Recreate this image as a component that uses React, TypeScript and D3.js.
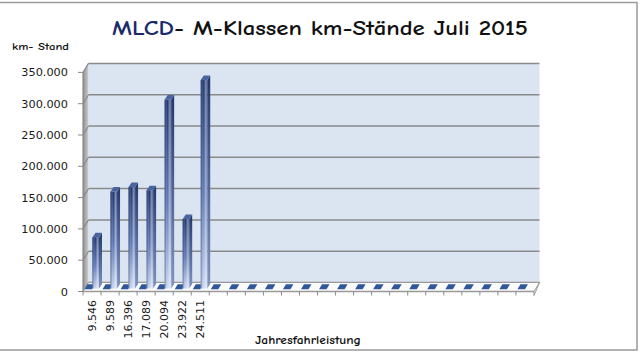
import React from "react";
import * as d3 from "d3";

const categories = ["9.546", "9.589", "16.396", "17.089", "20.094", "23.922", "24.511"];
const values = [82000, 155000, 162000, 157000, 302000, 111000, 333000];
const emptySlots = 18;
const yTicks = [0, 50000, 100000, 150000, 200000, 250000, 300000, 350000];
const titleMain = "MLCD";
const titleRest = "- M-Klassen km-Stände Juli 2015";
const yTitle = "km- Stand";
const xTitle = "Jahresfahrleistung";

const W = 640;
const H = 354;
const DX = 5.5; // depth offset of the 3D box
const DY = -9;
const BDX = 3; // bar depth
const BDY = -4.5;
const BAR_OFF_Y = -3; // bar front plane offset

const fmt = d3.formatLocale({ decimal: ",", thousands: ".", grouping: [3], currency: ["", "€"] }).format(",");

export default function App() {
  const slots = d3.range(categories.length + emptySlots);
  const x = d3.scaleBand<number>().domain(slots).range([83, 534]).padding(0);
  const y = d3.scaleLinear().domain([0, 350000]).range([291.5, 72.4]);
  const bw = x.bandwidth();
  const x0 = 83, x1 = 534;
  const yb = y(0), yt = y(350000);

  const pts = (arr: [number, number][]) => arr.map((p) => p.join(",")).join(" ");
  const comic = "'Comic Sans MS', 'Comic Neue', 'DejaVu Sans', sans-serif";

  return (
    <svg width={W} height={H} style={{ position: "absolute", left: 0, top: 0, background: "#fff" }}>
      <defs>
        <linearGradient id="sideWall" x1="0" x2="1" y1="0" y2="0">
          <stop offset="0" stopColor="#8e8e8e" />
          <stop offset="1" stopColor="#cfcfcf" />
        </linearGradient>
        <linearGradient id="barV" x1="0" x2="0" y1="0" y2="1">
          <stop offset="0" stopColor="#1f3670" />
          <stop offset="0.55" stopColor="#607bb7" />
          <stop offset="1" stopColor="#ccd8f2" />
        </linearGradient>
        <linearGradient id="barH" x1="0" x2="1" y1="0" y2="0">
          <stop offset="0" stopColor="#0f2256" stopOpacity="0.55" />
          <stop offset="0.45" stopColor="#ffffff" stopOpacity="0" />
          <stop offset="0.8" stopColor="#ffffff" stopOpacity="0.45" />
          <stop offset="1" stopColor="#ffffff" stopOpacity="0.15" />
        </linearGradient>
        <linearGradient id="barSide" x1="0" x2="0" y1="0" y2="1">
          <stop offset="0" stopColor="#22386c" />
          <stop offset="1" stopColor="#8194c0" />
        </linearGradient>
      </defs>

      {/* frame */}
      <rect x={-5} y={2.5} width={642} height={347.5} fill="#fff" stroke="#9a9a9a" strokeWidth={1.5} />

      {/* title */}
      <text x={112} y={35} fontFamily={comic} fontWeight="bold" fontSize={21} textLength={416} lengthAdjust="spacingAndGlyphs">
        <tspan fill="#1b2a6b">{titleMain}</tspan>
        <tspan fill="#111">{titleRest}</tspan>
      </text>
      <text x={12} y={50} fontFamily={comic} fontWeight="bold" fontSize={10} fill="#111" textLength={57} lengthAdjust="spacingAndGlyphs">
        {yTitle}
      </text>

      {/* back wall */}
      <rect x={x0 + DX} y={yt + DY} width={x1 - x0} height={yb - yt} fill="#dbe5f1" />
      {/* side wall */}
      <polygon points={pts([[x0, yt], [x0 + DX, yt + DY], [x0 + DX, yb + DY], [x0, yb]])} fill="url(#sideWall)" />
      {/* gridlines */}
      {yTicks.map((t) => (
        <g key={t}>
          <line x1={x0 + DX} x2={x1 + DX} y1={y(t) + DY} y2={y(t) + DY} stroke="#8a8a8a" strokeWidth={1.5} />
          <line x1={x0} x2={x0 + DX} y1={y(t)} y2={y(t) + DY} stroke="#8a8a8a" strokeWidth={1.2} />
        </g>
      ))}

      {/* floor */}
      <polygon points={pts([[x0, yb], [x1, yb], [x1 + DX, yb + DY], [x0 + DX, yb + DY]])} fill="#fbfbfb" stroke="#9a9a9a" strokeWidth={1} />
      <line x1={x0} x2={x1} y1={yb} y2={yb} stroke="#9a9a9a" strokeWidth={1.5} />
      {slots.map((i) => {
        const b = x(i)!;
        return (
          <polygon
            key={"s" + i}
            points={pts([[b + 1.5, yb - 2.2], [b + 9, yb - 2.2], [b + 12, yb - 7.2], [b + 4.5, yb - 7.2]])}
            fill="#30579a"
          />
        );
      })}

      {/* bars */}
      {values.map((v, i) => {
        const b = x(i)!;
        const l = b + 9.5;
        const r = l + 6.5;
        const top = y(v) + BAR_OFF_Y;
        const base = yb + BAR_OFF_Y;
        return (
          <g key={"b" + i}>
            <polygon points={pts([[r, top], [r + BDX, top + BDY], [r + BDX, base + BDY], [r, base]])} fill="url(#barSide)" />
            <rect x={l} y={top} width={r - l} height={base - top} fill="url(#barV)" />
            <rect x={l} y={top} width={r - l} height={base - top} fill="url(#barH)" />
            <polygon points={pts([[l, top], [r, top], [r + BDX, top + BDY], [l + BDX, top + BDY]])} fill="#4a64a0" />
          </g>
        );
      })}

      {/* y axis */}
      <line x1={x0} x2={x0} y1={yt} y2={yb} stroke="#8a8a8a" strokeWidth={1.2} />
      {yTicks.map((t) => (
        <g key={"yt" + t}>
          <line x1={x0 - 5} x2={x0} y1={y(t)} y2={y(t)} stroke="#8a8a8a" strokeWidth={1} />
          <text x={68} y={y(t)} dy="0.36em" textAnchor="end" fontFamily="'DejaVu Sans', sans-serif" fontSize={11.3} fill="#1a1a1a">
            {fmt(t)}
          </text>
        </g>
      ))}

      {/* x ticks */}
      {slots.concat([slots.length]).map((i) => {
        const xx = x0 + i * bw;
        return <line key={"xt" + i} x1={xx} x2={xx} y1={yb} y2={yb + 4} stroke="#8a8a8a" strokeWidth={1} />;
      })}
      {/* right floor edge */}
      <line x1={x1} y1={yb + 4} x2={x1 + DX} y2={yb + DY} stroke="#9a9a9a" strokeWidth={1} />

      {/* x labels */}
      {categories.map((c, i) => {
        const cx = x(i)! + bw / 2;
        return (
          <text
            key={"xl" + i}
            transform={`translate(${cx},300) rotate(-90)`}
            dy="0.36em"
            textAnchor="end"
            fontFamily="'DejaVu Sans', sans-serif"
            fontSize={11}
            fill="#1a1a1a"
          >
            {c}
          </text>
        );
      })}

      <text x={308} y={344} textAnchor="middle" fontFamily={comic} fontWeight="bold" fontSize={11} fill="#111" textLength={106} lengthAdjust="spacingAndGlyphs">
        {xTitle}
      </text>
    </svg>
  );
}
